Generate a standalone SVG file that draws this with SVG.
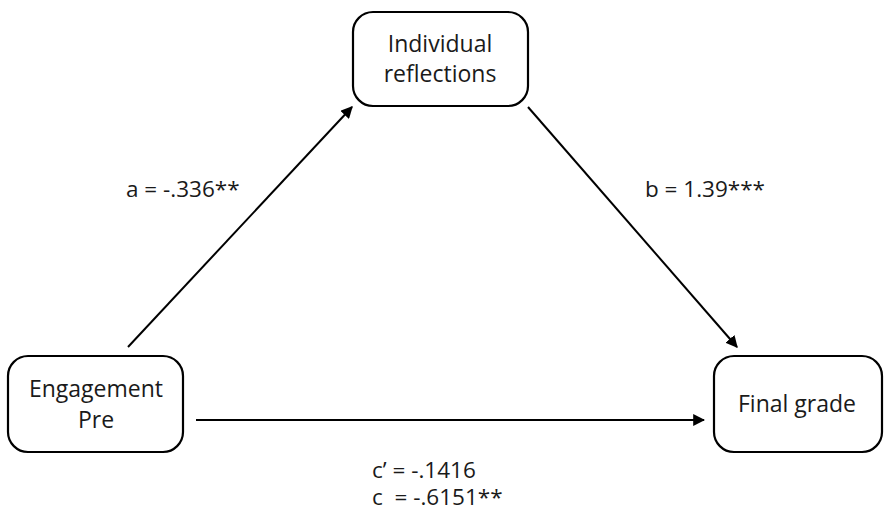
<svg xmlns="http://www.w3.org/2000/svg" width="884" height="513" viewBox="0 0 884 513">
<style>
.box{fill:#fff;stroke:#000;stroke-width:2.2}
.t{font-family:"Open Sans","Noto Sans",sans-serif;font-size:23px;fill:#1a1a1a;text-anchor:middle}
.l{font-family:"Open Sans","Noto Sans",sans-serif;font-size:22.5px;fill:#1a1a1a;white-space:pre}
.c{stroke:#000;stroke-width:2;fill:none;marker-end:url(#ah)}
</style>
<defs>
<marker id="ah" viewBox="0 0 10 10" refX="9" refY="5" markerWidth="6" markerHeight="6" orient="auto" markerUnits="strokeWidth">
<path d="M0,0 L10,5 L0,10 z" fill="#000"/>
</marker>
</defs>
<g id="connectors">
<line class="c" x1="128" y1="347" x2="352" y2="107"/>
<line class="c" x1="528" y1="107" x2="737" y2="347"/>
<line class="c" x1="196" y1="420" x2="704" y2="420"/>
</g>
<g id="node-reflections">
<rect class="box" x="353" y="12" width="175" height="94" rx="20"/>
<text class="t" x="440" y="52">Individual</text>
<text class="t" x="440" y="82">reflections</text>
</g>
<g id="node-engagement">
<rect class="box" x="8" y="356" width="175" height="96" rx="20"/>
<text class="t" x="96" y="397">Engagement</text>
<text class="t" x="96" y="428">Pre</text>
</g>
<g id="node-final">
<rect class="box" x="714" y="356" width="168" height="96" rx="20"/>
<text class="t" x="797" y="412">Final grade</text>
</g>
<g id="labels">
<text class="l" x="126" y="197">a = -.336**</text>
<text class="l" x="645" y="197">b = 1.39***</text>
<text class="l" x="372" y="478">c’ = -.1416</text>
<text class="l" x="372" y="505" xml:space="preserve">c  = -.6151**</text>
</g>
</svg>
